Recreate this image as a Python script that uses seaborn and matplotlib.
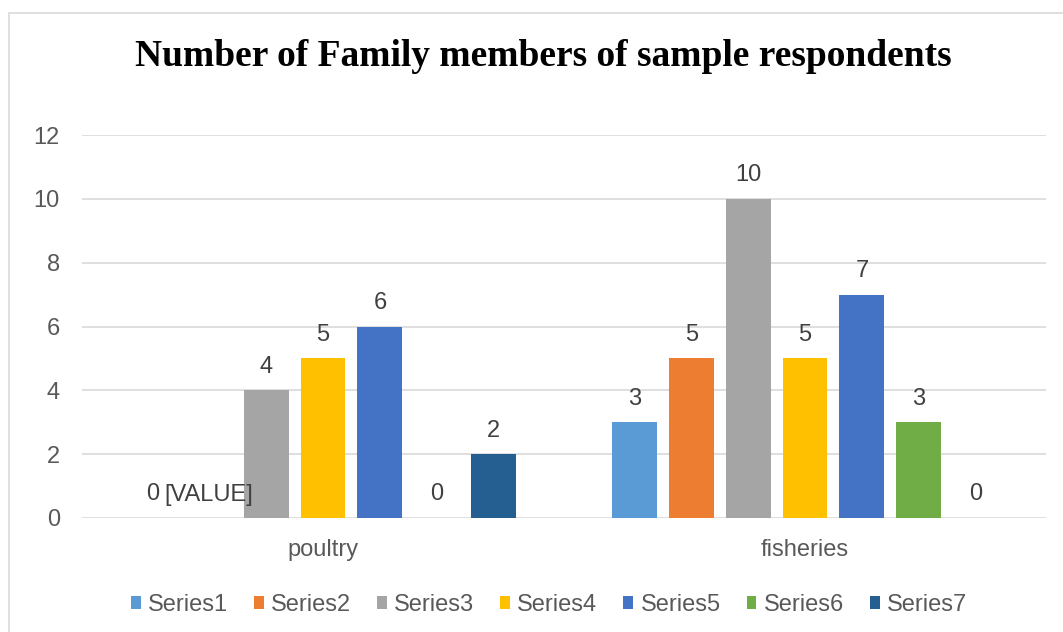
import matplotlib
matplotlib.use("Agg")
import matplotlib.pyplot as plt
from matplotlib.patches import Rectangle
import seaborn as sns
import pandas as pd

# Data
categories = ["poultry", "fisheries"]
series_names = ["Series1", "Series2", "Series3", "Series4", "Series5", "Series6", "Series7"]
poultry_values = [0, 0, 4, 5, 6, 0, 2]
fisheries_values = [3, 5, 10, 5, 7, 3, 0]
poultry_labels = ["0", "[VALUE]", "4", "5", "6", "0", "2"]
fisheries_labels = ["3", "5", "10", "5", "7", "3", "0"]
y_ticks = [0, 2, 4, 6, 8, 10, 12]
title = "Number of Family members of sample respondents"

colors = ["#5B9BD5", "#ED7D31", "#A5A5A5", "#FFC000", "#4472C4", "#70AD47", "#255E91"]

rows = []
for s, pv, fv in zip(series_names, poultry_values, fisheries_values):
    rows.append({"category": categories[0], "series": s, "value": pv})
    rows.append({"category": categories[1], "series": s, "value": fv})
df = pd.DataFrame(rows)

sns.set_theme(style="white")
plt.rcParams["font.family"] = ["Liberation Sans", "DejaVu Sans"]

fig = plt.figure(figsize=(10.63, 6.32), dpi=100)
ax = fig.add_axes([82 / 1063, 1 - 518 / 632, (1046 - 82) / 1063, (518 - 135) / 632])

sns.barplot(data=df, x="category", y="value", hue="series", order=categories,
            hue_order=series_names, palette=colors, saturation=1,
            width=0.826, gap=0.21, linewidth=0, ax=ax, legend=True)

ax.set_ylim(0, 12)
ax.set_yticks(y_ticks)
ax.set_xlim(-0.5, 1.5)
ax.yaxis.grid(True, color="#D9D9D9", linewidth=1.2)
ax.set_axisbelow(True)
for sp in ax.spines.values():
    sp.set_visible(False)
ax.set_xlabel("")
ax.set_ylabel("")
ax.tick_params(axis="both", length=0, labelsize=17, labelcolor="#595959")
ax.tick_params(axis="y", pad=16)
ax.tick_params(axis="x", pad=15)

# Value labels above each bar
for container, pl, fl in zip(ax.containers, poultry_labels, fisheries_labels):
    ax.bar_label(container, labels=[pl, fl], padding=9, fontsize=17, color="#404040")

# Legend along the bottom
handles, labels = ax.get_legend_handles_labels()
ax.get_legend().remove()
fig.legend(handles, labels, loc="center", bbox_to_anchor=(549 / 1063, 1 - 605 / 632),
           ncol=7, frameon=False, fontsize=17, handlelength=0.42, handleheight=0.42,
           handletextpad=0.3, columnspacing=1.1, labelcolor="#595959")

fig.text(543 / 1063, 1 - 56 / 632, title, ha="center", va="center",
         fontsize=27, fontweight="bold", family=["Liberation Serif", "DejaVu Serif"],
         color="black")

# Chart area border
fig.patches.append(Rectangle((9 / 1063, -0.1), 1.2, 1.1 - 13 / 632,
                             transform=fig.transFigure, fill=False,
                             edgecolor="#D9D9D9", linewidth=1.2))

fig.savefig("out.png", dpi=100)
